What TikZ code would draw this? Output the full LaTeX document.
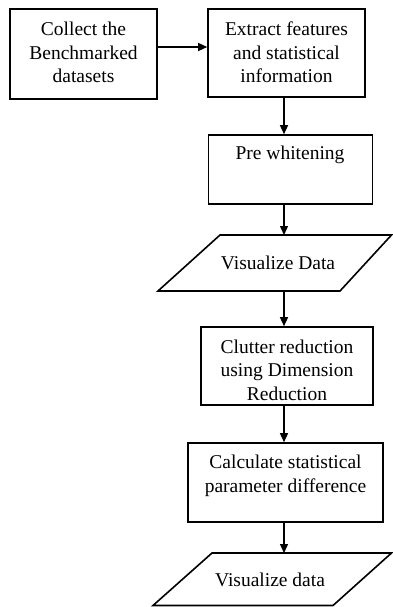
\documentclass[tikz,border=0pt]{standalone}
\usepackage{fontspec}
\setmainfont{Liberation Serif}
\usetikzlibrary{arrows.meta}
\begin{document}
\begin{tikzpicture}[x=1pt,y=-1pt,
  box/.style={draw,line width=1.6pt,inner sep=0pt},
  txt/.style={align=center,font=\fontsize{19.5}{23.5}\selectfont,inner sep=0pt},
  arr/.style={line width=1.4pt,-{Triangle[length=9pt,width=8pt]}},
  para/.style={draw,line width=1.6pt,line join=miter}]
\useasboundingbox (0,0) rectangle (393,607);
% boxes
\node[box,minimum width=147pt,minimum height=90pt] (b1) at (83.5,54) {};
\node[txt] (t1) at (83.5,52.5) {Collect the\\Benchmarked\\datasets};
\node[box,minimum width=157pt,minimum height=88pt] (b2) at (286.5,53) {};
\node[txt] (t2) at (286.5,52.5) {Extract features\\and statistical\\information};
\node[box,minimum width=164pt,minimum height=69pt] (b3) at (290.5,169.5) {};
\node[txt] (t3) at (290,155) {Pre whitening};
% parallelogram 1
\draw[para] (220,235) -- (391.5,235) -- (340,291) -- (158,291) -- cycle;
\coordinate (p1top) at (284,235);
\coordinate (p1bot) at (284,291);
\node[txt] (t4) at (278,263) {Visualize Data};
\node[box,minimum width=172pt,minimum height=78pt] (b4) at (287,366) {};
\node[txt] (t5) at (287,370) {Clutter reduction\\using Dimension\\Reduction};
\node[box,minimum width=195pt,minimum height=79pt] (b5) at (285.5,482.5) {};
\node[txt] (t6) at (285.5,476) {Calculate statistical\\parameter difference};
% parallelogram 2
\draw[para] (212,553) -- (391.5,553) -- (333,605.5) -- (153,605.5) -- cycle;
\coordinate (p2top) at (284,553);
\node[txt] (t7) at (270,580) {Visualize data};
% connectors
\coordinate (ax) at (284,0);
\coordinate (ay) at (0,47);
\draw[arr] (b1.east |- ay) -- (b2.west |- ay);
\draw[arr] (b2.south -| ax) -- (b3.north -| ax);
\draw[arr] (b3.south -| ax) -- (p1top);
\draw[arr] (p1bot) -- (b4.north -| ax);
\draw[arr] (b4.south -| ax) -- (b5.north -| ax);
\draw[arr] (b5.south -| ax) -- (p2top);
\end{tikzpicture}
\end{document}
